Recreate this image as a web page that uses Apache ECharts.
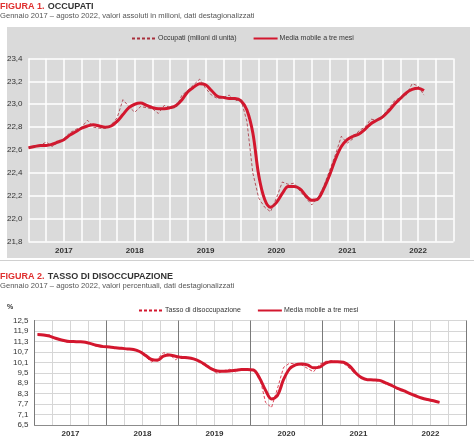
<!DOCTYPE html>
<html>
<head>
<meta charset="utf-8">
<script src="https://cdn.jsdelivr.net/npm/echarts@6/dist/echarts.min.js"></script>
<style>
  html, body { margin: 0; padding: 0; background: #fff; }
  #chart { width: 474px; height: 441px; }
</style>
</head>
<body>
<div id="chart"></div>
<script>
// ── Data (monthly, gennaio 2017 – agosto 2022) ─────────────────────────────
const YEARS = ['2017', '2018', '2019', '2020', '2021', '2022']

const OCC_TICKS = [21.8, 22.0, 22.2, 22.4, 22.6, 22.8, 23.0, 23.2, 23.4]
const DIS_TICKS = [6.5, 7.1, 7.7, 8.3, 8.9, 9.5, 10.1, 10.7, 11.3, 11.9, 12.5]

// Occupati, milioni di unità
const OCCUPATI = [
  22.62, 22.63, 22.64, 22.67, 22.63, 22.67, 22.70, 22.75, 22.78, 22.80, 22.86, 22.80,
  22.79, 22.79, 22.82, 22.88, 23.04, 22.98, 22.93, 22.98, 22.97, 22.96, 22.92, 22.99,
  22.97, 22.97, 23.08, 23.12, 23.17, 23.22, 23.14, 23.08, 23.05, 23.06, 23.08, 23.03,
  23.04, 22.85, 22.40, 22.18, 22.10, 22.06, 22.18, 22.32, 22.30, 22.31, 22.24, 22.18,
  22.12, 22.18, 22.28, 22.42, 22.56, 22.72, 22.66, 22.70, 22.77, 22.80, 22.87, 22.86,
  22.90, 22.96, 23.03, 23.06, 23.08, 23.18, 23.16, 23.08
]
const OCCUPATI_MM = [
  22.62, 22.63, 22.64, 22.64, 22.65, 22.67, 22.69, 22.73, 22.76, 22.79, 22.81, 22.82,
  22.81, 22.80, 22.81, 22.85, 22.91, 22.97, 23.00, 23.01, 22.99, 22.97, 22.96, 22.96,
  22.97, 22.99, 23.04, 23.11, 23.15, 23.18, 23.17, 23.12, 23.07, 23.06, 23.05, 23.05,
  23.03, 22.95, 22.75, 22.38, 22.17, 22.10, 22.14, 22.22, 22.28, 22.28, 22.26, 22.20,
  22.16, 22.17, 22.26, 22.38, 22.52, 22.63, 22.69, 22.72, 22.74, 22.78, 22.83, 22.86,
  22.89, 22.94, 23.00, 23.05, 23.10, 23.13, 23.14, 23.12
]

// Tasso di disoccupazione, %
const DISOCC = [
  11.72, 11.65, 11.68, 11.45, 11.35, 11.25, 11.32, 11.27, 11.22, 11.12, 11.02, 10.98,
  11.02, 10.92, 10.88, 10.90, 10.82, 10.70, 10.42, 10.12, 10.30, 10.65, 10.55, 10.25,
  10.45, 10.40, 10.32, 10.08, 9.90, 9.70, 9.45, 9.62, 9.70, 9.55, 9.72, 9.70,
  9.62, 9.30, 7.80, 7.50, 8.60, 9.80, 10.05, 10.00, 9.95, 9.75, 9.55, 9.98,
  10.15, 10.20, 10.12, 10.05, 9.75, 9.45, 9.20, 9.10, 9.08, 9.05, 8.85, 8.75,
  8.55, 8.48, 8.30, 8.15, 8.02, 7.95, 7.88, 7.78
]
const DISOCC_MM = [
  11.70, 11.67, 11.60, 11.48, 11.38, 11.31, 11.29, 11.28, 11.25, 11.16, 11.06, 11.00,
  10.98, 10.94, 10.90, 10.87, 10.83, 10.72, 10.50, 10.26, 10.22, 10.45, 10.52, 10.45,
  10.38, 10.36, 10.30, 10.16, 9.95, 9.72, 9.60, 9.58, 9.60, 9.64, 9.68, 9.68,
  9.66, 9.20, 8.50, 8.00, 8.20, 9.10, 9.72, 9.95, 10.00, 9.95, 9.78, 9.82,
  10.05, 10.13, 10.13, 10.10, 9.90, 9.50, 9.22, 9.10, 9.09, 9.06, 8.92, 8.78,
  8.60, 8.47, 8.32, 8.18, 8.05, 7.96, 7.89, 7.80
]

// ── Style ──────────────────────────────────────────────────────────────────
const FONT = '"Liberation Sans", Arial, sans-serif'
const RED = '#d3172e'
const TXT = '#333'
const comma = (v) => v.toFixed(1).replace('.', ',')
const yearLabel = (v) => ((v - 6) % 12 === 0 ? YEARS[(v - 6) / 12] || '' : '')

function toPoints(arr, shift) {
  return arr.map((v, i) => [i + shift, v])
}

// title + subtitle as plain graphic texts, placed like the Istat figure headers
function figHeader(top, num, name, sub) {
  return [
    {
      type: 'text', left: 0, top,
      style: {
        text: `{r|FIGURA ${num}.} {k|${name}}`,
        rich: {
          r: { fill: '#e0302f', font: 'bold 9px ' + FONT },
          k: { fill: TXT, font: 'bold 9px ' + FONT }
        }
      }
    },
    { type: 'text', left: 0, top: top + 11, style: { text: sub, fill: '#555', font: '7.6px ' + FONT } }
  ]
}

const chart = echarts.init(document.getElementById('chart'))

chart.setOption({
  animation: false,
  textStyle: { fontFamily: FONT },
  graphic: [
    { type: 'rect', z: -10, shape: { x: 7, y: 27, width: 463, height: 231 }, style: { fill: '#dadada' } },
    { type: 'line', z: -10, shape: { x1: 0, y1: 260.5, x2: 474, y2: 260.5 }, style: { stroke: '#d0d0d0', lineWidth: 1 } },
    { type: 'text', left: 7, top: 304, style: { text: '%', font: 'bold 7px ' + FONT, fill: TXT } },
    ...figHeader(1, 1, 'OCCUPATI', 'Gennaio 2017 – agosto 2022, valori assoluti in milioni, dati destagionalizzati'),
    ...figHeader(271, 2, 'TASSO DI DISOCCUPAZIONE', 'Gennaio 2017 – agosto 2022, valori percentuali, dati destagionalizzati')
  ],
  legend: [
    {
      top: 30, left: 126, itemWidth: 24, itemHeight: 8, itemGap: 16,
      data: ['Occupati (milioni di unità)', 'Media mobile a tre mesi'],
      itemStyle: { opacity: 0 },
      textStyle: { fontSize: 7, color: TXT, padding: [0, 0, 0, -3] },
      selectedMode: false
    },
    {
      top: 302, left: 133, itemWidth: 24, itemHeight: 8, itemGap: 16,
      data: ['Tasso di disoccupazione', 'Media mobile a tre mesi '],
      itemStyle: { opacity: 0 },
      textStyle: { fontSize: 7, color: TXT, padding: [0, 0, 0, -3] },
      selectedMode: false
    }
  ],
  grid: [
    { left: 28.5, right: 20.5, top: 58.5, bottom: 199.5 },
    { left: 34.5, right: 7.5, top: 320.5, bottom: 16 }
  ],
  xAxis: [
    {
      gridIndex: 0, type: 'value', min: 0, max: 72, interval: 3,
      axisLine: { show: false }, axisTick: { show: false },
      splitLine: { show: true, lineStyle: { color: '#fff', width: 1.5 } },
      axisLabel: { formatter: yearLabel, color: TXT, fontWeight: 'bold', fontSize: 8, margin: 5 }
    },
    {
      gridIndex: 1, type: 'value', min: 0, max: 72, interval: 3, position: 'bottom',
      axisLine: { show: true, lineStyle: { color: '#8c8c8c', width: 1 } }, axisTick: { show: false },
      splitLine: { show: true, lineStyle: { color: '#d6d6d6', width: 1 } },
      axisLabel: { formatter: yearLabel, color: TXT, fontWeight: 'bold', fontSize: 8, margin: 5 }
    },
    {
      gridIndex: 1, type: 'value', min: 0, max: 72, interval: 12, position: 'bottom',
      axisLine: { show: false }, axisTick: { show: false }, axisLabel: { show: false },
      splitLine: { show: true, lineStyle: { color: '#7a7a7a', width: 1 } }
    }
  ],
  yAxis: [
    {
      gridIndex: 0, type: 'value',
      min: OCC_TICKS[0], max: OCC_TICKS[OCC_TICKS.length - 1], interval: 0.2,
      axisLine: { show: false }, axisTick: { show: false },
      splitLine: { lineStyle: { color: '#fff', width: 1.5 } },
      axisLabel: { formatter: comma, color: TXT, fontSize: 8, margin: 6 }
    },
    {
      gridIndex: 1, type: 'value',
      min: DIS_TICKS[0], max: DIS_TICKS[DIS_TICKS.length - 1], interval: 0.6,
      axisLine: { show: true, lineStyle: { color: '#7a7a7a', width: 1 } }, axisTick: { show: false },
      splitLine: { lineStyle: { color: '#d6d6d6', width: 1 } },
      axisLabel: { formatter: comma, color: TXT, fontSize: 8, margin: 6 }
    }
  ],
  series: [
    {
      name: 'Media mobile a tre mesi', type: 'line', xAxisIndex: 0, yAxisIndex: 0,
      data: toPoints(OCCUPATI_MM, 0), symbol: 'none', smooth: 0.35, z: 2,
      lineStyle: { color: RED, width: 3 }, itemStyle: { color: RED }
    },
    {
      name: 'Occupati (milioni di unità)', type: 'line', xAxisIndex: 0, yAxisIndex: 0,
      data: toPoints(OCCUPATI, 0), symbol: 'none', z: 3,
      lineStyle: { color: '#a8303c', width: 0.8, type: [3, 2] }, itemStyle: { color: '#a8303c' }
    },
    {
      name: 'Media mobile a tre mesi ', type: 'line', xAxisIndex: 1, yAxisIndex: 1,
      data: toPoints(DISOCC_MM, 0.5), symbol: 'none', smooth: 0.35, z: 2,
      lineStyle: { color: RED, width: 3 }, itemStyle: { color: RED }
    },
    {
      name: 'Tasso di disoccupazione', type: 'line', xAxisIndex: 1, yAxisIndex: 1,
      data: toPoints(DISOCC, 0.5), symbol: 'none', z: 3,
      lineStyle: { color: RED, width: 0.8, type: [3, 2] }, itemStyle: { color: RED }
    }
  ]
})
</script>
</body>
</html>
